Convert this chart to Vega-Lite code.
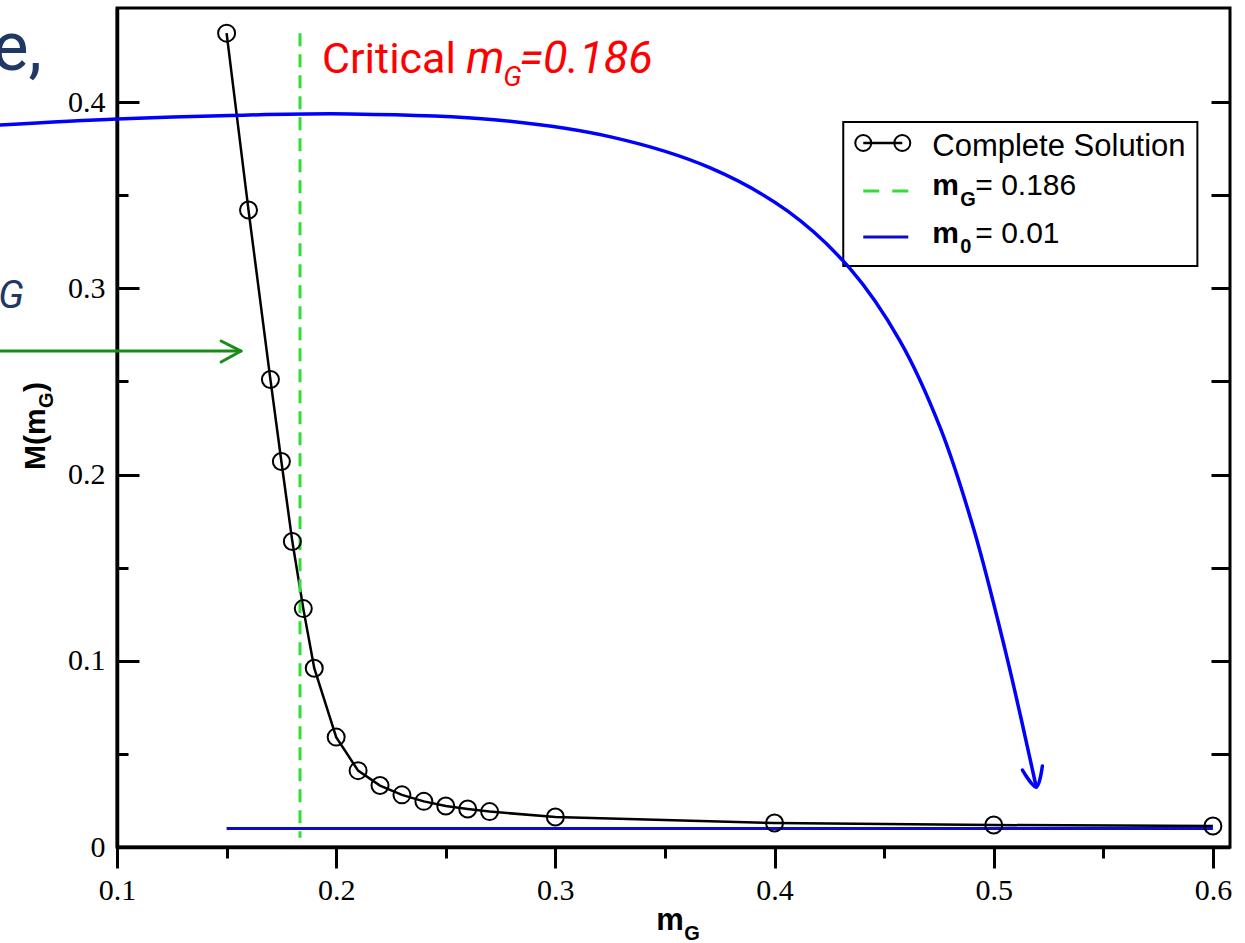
{
  "$schema": "https://vega.github.io/schema/vega-lite/v6.json",
  "width": 1113,
  "height": 839,
  "autosize": {"type": "none"},
  "padding": {"left": 117, "top": 8, "right": 15, "bottom": 96},
  "background": "white",
  "config": {"view": {"stroke": "black", "strokeWidth": 3}, "axis": {"grid": false}},
  "datasets": {
    "solution": [
      {"mG": 0.15, "M": 0.437},
      {"mG": 0.16, "M": 0.342},
      {"mG": 0.17, "M": 0.251},
      {"mG": 0.175, "M": 0.207},
      {"mG": 0.18, "M": 0.164},
      {"mG": 0.185, "M": 0.128},
      {"mG": 0.19, "M": 0.096},
      {"mG": 0.2, "M": 0.059},
      {"mG": 0.21, "M": 0.041},
      {"mG": 0.22, "M": 0.033},
      {"mG": 0.23, "M": 0.028},
      {"mG": 0.24, "M": 0.0245},
      {"mG": 0.25, "M": 0.022},
      {"mG": 0.26, "M": 0.0204},
      {"mG": 0.27, "M": 0.019},
      {"mG": 0.3, "M": 0.0161},
      {"mG": 0.4, "M": 0.0129},
      {"mG": 0.5, "M": 0.0118},
      {"mG": 0.6, "M": 0.0113}
    ],
    "m0": [
      {"mG": 0.15, "M": 0.01},
      {"mG": 0.6, "M": 0.01}
    ],
    "blueArrow": [
      {"part": "shaft", "i": 0, "x": 0.0466, "y": 0.3877},
      {"part": "shaft", "i": 1, "x": 0.1, "y": 0.3909},
      {"part": "shaft", "i": 2, "x": 0.1516, "y": 0.3928},
      {"part": "shaft", "i": 3, "x": 0.2063, "y": 0.3936},
      {"part": "shaft", "i": 4, "x": 0.27202, "y": 0.39052},
      {"part": "shaft", "i": 5, "x": 0.32624, "y": 0.38101},
      {"part": "shaft", "i": 6, "x": 0.37042, "y": 0.36474},
      {"part": "shaft", "i": 7, "x": 0.40603, "y": 0.34139},
      {"part": "shaft", "i": 8, "x": 0.43446, "y": 0.31051},
      {"part": "shaft", "i": 9, "x": 0.45714, "y": 0.27191},
      {"part": "shaft", "i": 10, "x": 0.47558, "y": 0.22514},
      {"part": "shaft", "i": 11, "x": 0.4911, "y": 0.16978},
      {"part": "shaft", "i": 12, "x": 0.50525, "y": 0.10562},
      {"part": "shaft", "i": 13, "x": 0.51228, "y": 0.07007},
      {"part": "shaft", "i": 14, "x": 0.5194, "y": 0.0322},
      {"part": "head", "i": 0, "x": 0.5131, "y": 0.0413},
      {"part": "head", "i": 1, "x": 0.5194, "y": 0.0322},
      {"part": "head", "i": 2, "x": 0.5222, "y": 0.0435}
    ],
    "greenArrow": [
      {"part": "shaft", "i": 0, "x": 0.0443, "y": 0.2663},
      {"part": "shaft", "i": 1, "x": 0.1566, "y": 0.2663},
      {"part": "head", "i": 0, "x": 0.1475, "y": 0.2717},
      {"part": "head", "i": 1, "x": 0.1566, "y": 0.2663},
      {"part": "head", "i": 2, "x": 0.1475, "y": 0.2604}
    ]
  },
  "layer": [
    {
      "data": {"name": "solution"},
      "mark": {"type": "line", "color": "black", "strokeWidth": 2.5},
      "encoding": {
        "x": {"field": "mG", "type": "quantitative",
          "scale": {"domain": [0.1, 0.6078], "nice": false, "zero": false},
          "axis": {"orient": "bottom", "values": [0.1, 0.15, 0.2, 0.25, 0.3, 0.35, 0.4, 0.45, 0.5, 0.55, 0.6],
            "labelExpr": "abs(datum.value*10-round(datum.value*10))<0.01 ? format(datum.value,'.1f') : ''",
            "tickSize": {"condition": {"test": "abs(datum.value*10-round(datum.value*10))<0.01", "value": 21}, "value": 11},
            "tickWidth": 3, "tickColor": "black", "domainColor": "black", "domainWidth": 3.5,
            "labelFont": "Liberation Serif", "labelFontSize": 30, "labelColor": "black", "labelPadding": 7,
            "labelFlush": false, "labelOverlap": false, "title": null, "grid": false}},
        "y": {"field": "M", "type": "quantitative",
          "scale": {"domain": [0, 0.4505], "nice": false, "zero": false},
          "axis": {"orient": "left", "values": [0, 0.05, 0.1, 0.15, 0.2, 0.25, 0.3, 0.35, 0.4],
            "labelExpr": "abs(datum.value*10-round(datum.value*10))<0.01 ? format(datum.value,'.1~f') : ''",
            "tickSize": {"condition": {"test": "abs(datum.value*10-round(datum.value*10))<0.01", "value": -22}, "value": -11},
            "labelPadding": 34,
            "tickWidth": 3, "tickColor": "black", "domainColor": "black", "domainWidth": 3.5,
            "labelFont": "Liberation Serif", "labelFontSize": 30, "labelColor": "black",
            "labelFlush": false, "labelOverlap": false, "title": null, "grid": false}}
      }
    },
    {
      "data": {"values": [{}]},
      "mark": {"type": "point", "opacity": 0},
      "encoding": {
        "y": {"datum": 0, "type": "quantitative",
          "axis": {"orient": "right", "values": [0.05, 0.1, 0.15, 0.2, 0.25, 0.3, 0.35, 0.4], "labels": false, "domain": false, "tickSize": -19, "tickWidth": 3, "tickColor": "black", "title": null, "grid": false}}
      }
    },
    {
      "data": {"values": [{}]},
      "mark": {"type": "rule", "color": "#33dd33", "strokeWidth": 3, "strokeDash": [13, 8]},
      "encoding": {
        "x": {"datum": 0.1835, "type": "quantitative", "axis": null},
        "y": {"datum": 0.437, "type": "quantitative", "axis": null},
        "y2": {"datum": 0.005}
      }
    },
    {
      "data": {"name": "m0"},
      "mark": {"type": "line", "color": "#0b0bcc", "strokeWidth": 3},
      "encoding": {
        "x": {"field": "mG", "type": "quantitative", "axis": null},
        "y": {"field": "M", "type": "quantitative", "axis": null}
      }
    },
    {
      "data": {"name": "solution"},
      "mark": {"type": "point", "shape": "circle", "size": 289, "color": "black", "filled": false, "strokeWidth": 2, "opacity": 1},
      "encoding": {
        "x": {"field": "mG", "type": "quantitative", "axis": null},
        "y": {"field": "M", "type": "quantitative", "axis": null}
      }
    },
    {
      "data": {"values": [{}]},
      "mark": {"type": "rect", "fill": "white", "stroke": "black", "strokeWidth": 2},
      "encoding": {
        "x": {"datum": 0.43135, "type": "quantitative", "axis": null},
        "x2": {"datum": 0.59292},
        "y": {"datum": 0.38928, "type": "quantitative", "axis": null},
        "y2": {"datum": 0.31196}
      }
    },
    {
      "data": {"values": [{}]},
      "mark": {"type": "rule", "color": "black", "strokeWidth": 2.5},
      "encoding": {
        "x": {"datum": 0.44048, "type": "quantitative", "axis": null},
        "x2": {"datum": 0.45828},
        "y": {"datum": 0.37801, "type": "quantitative", "axis": null}
      }
    },
    {
      "data": {"values": [{}]},
      "mark": {"type": "point", "shape": "circle", "size": 256, "color": "black", "filled": false, "strokeWidth": 2, "opacity": 1},
      "encoding": {"x": {"datum": 0.44048, "type": "quantitative", "axis": null}, "y": {"datum": 0.37801, "type": "quantitative", "axis": null}}
    },
    {
      "data": {"values": [{}]},
      "mark": {"type": "point", "shape": "circle", "size": 256, "color": "black", "filled": false, "strokeWidth": 2, "opacity": 1},
      "encoding": {"x": {"datum": 0.45828, "type": "quantitative", "axis": null}, "y": {"datum": 0.37801, "type": "quantitative", "axis": null}}
    },
    {
      "data": {"values": [{}]},
      "mark": {"type": "rule", "color": "#33dd33", "strokeWidth": 3, "strokeDash": [16, 13]},
      "encoding": {
        "x": {"datum": 0.44048, "type": "quantitative", "axis": null},
        "x2": {"datum": 0.46102},
        "y": {"datum": 0.35223, "type": "quantitative", "axis": null}
      }
    },
    {
      "data": {"values": [{}]},
      "mark": {"type": "rule", "color": "#0b0bcc", "strokeWidth": 3},
      "encoding": {
        "x": {"datum": 0.44048, "type": "quantitative", "axis": null},
        "x2": {"datum": 0.46102},
        "y": {"datum": 0.32753, "type": "quantitative", "axis": null}
      }
    },
    {
      "data": {"values": [{}]},
      "mark": {"type": "text", "text": "Complete Solution", "align": "left", "baseline": "alphabetic", "fontSize": 31, "font": "Liberation Sans", "color": "black"},
      "encoding": {"x": {"datum": 0.47197, "type": "quantitative", "axis": null}, "y": {"datum": 0.37103, "type": "quantitative", "axis": null}}
    },
    {
      "data": {"values": [{}]},
      "mark": {"type": "text", "text": "m", "align": "left", "baseline": "alphabetic", "fontSize": 30, "fontWeight": "bold", "font": "Liberation Sans", "color": "black"},
      "encoding": {"x": {"datum": 0.47197, "type": "quantitative", "axis": null}, "y": {"datum": 0.35008, "type": "quantitative", "axis": null}}
    },
    {
      "data": {"values": [{}]},
      "mark": {"type": "text", "text": "G", "align": "left", "baseline": "alphabetic", "fontSize": 20, "fontWeight": "bold", "font": "Liberation Sans", "color": "black"},
      "encoding": {"x": {"datum": 0.48475, "type": "quantitative", "axis": null}, "y": {"datum": 0.34418, "type": "quantitative", "axis": null}}
    },
    {
      "data": {"values": [{}]},
      "mark": {"type": "text", "text": "= 0.186", "align": "left", "baseline": "alphabetic", "fontSize": 30, "font": "Liberation Sans", "color": "black"},
      "encoding": {"x": {"datum": 0.4916, "type": "quantitative", "axis": null}, "y": {"datum": 0.35008, "type": "quantitative", "axis": null}}
    },
    {
      "data": {"values": [{}]},
      "mark": {"type": "text", "text": "m", "align": "left", "baseline": "alphabetic", "fontSize": 30, "fontWeight": "bold", "font": "Liberation Sans", "color": "black"},
      "encoding": {"x": {"datum": 0.47197, "type": "quantitative", "axis": null}, "y": {"datum": 0.32431, "type": "quantitative", "axis": null}}
    },
    {
      "data": {"values": [{}]},
      "mark": {"type": "text", "text": "0", "align": "left", "baseline": "alphabetic", "fontSize": 20, "fontWeight": "bold", "font": "Liberation Sans", "color": "black"},
      "encoding": {"x": {"datum": 0.48475, "type": "quantitative", "axis": null}, "y": {"datum": 0.31894, "type": "quantitative", "axis": null}}
    },
    {
      "data": {"values": [{}]},
      "mark": {"type": "text", "text": "= 0.01", "align": "left", "baseline": "alphabetic", "fontSize": 30, "font": "Liberation Sans", "color": "black"},
      "encoding": {"x": {"datum": 0.4916, "type": "quantitative", "axis": null}, "y": {"datum": 0.32431, "type": "quantitative", "axis": null}}
    },
    {
      "data": {"name": "blueArrow"},
      "mark": {"type": "line", "color": "#0000ff", "strokeWidth": 3.5, "strokeCap": "round", "strokeJoin": "round", "interpolate": "catmull-rom"},
      "encoding": {
        "x": {"field": "x", "type": "quantitative", "axis": null},
        "y": {"field": "y", "type": "quantitative", "axis": null},
        "detail": {"field": "part"},
        "order": {"field": "i", "type": "quantitative"}
      }
    },
    {
      "data": {"name": "greenArrow"},
      "mark": {"type": "line", "color": "#178c17", "strokeWidth": 3, "strokeCap": "round", "strokeJoin": "round"},
      "encoding": {
        "x": {"field": "x", "type": "quantitative", "axis": null},
        "y": {"field": "y", "type": "quantitative", "axis": null},
        "detail": {"field": "part"},
        "order": {"field": "i", "type": "quantitative"}
      }
    },
    {
      "data": {"values": [{}]},
      "mark": {"type": "text", "text": "e,", "align": "right", "baseline": "alphabetic", "fontSize": 68, "font": "Roboto", "color": "#1f3864"},
      "encoding": {"x": {"datum": 0.06577, "type": "quantitative", "axis": null}, "y": {"datum": 0.4172, "type": "quantitative", "axis": null}}
    },
    {
      "data": {"values": [{}]},
      "mark": {"type": "text", "text": "G", "align": "right", "baseline": "alphabetic", "fontSize": 39, "fontStyle": "italic", "font": "Roboto", "color": "#1f3864"},
      "encoding": {"x": {"datum": 0.05755, "type": "quantitative", "axis": null}, "y": {"datum": 0.28941, "type": "quantitative", "axis": null}}
    },
    {
      "data": {"values": [{}]},
      "mark": {"type": "text", "text": "Critical", "align": "left", "baseline": "alphabetic", "fontSize": 43, "font": "Roboto", "color": "#ff0000"},
      "encoding": {"x": {"datum": 0.19356, "type": "quantitative", "axis": null}, "y": {"datum": 0.41559, "type": "quantitative", "axis": null}}
    },
    {
      "data": {"values": [{}]},
      "mark": {"type": "text", "text": "m", "align": "left", "baseline": "alphabetic", "fontSize": 45, "fontStyle": "italic", "font": "Roboto", "color": "#ff0000"},
      "encoding": {"x": {"datum": 0.25929, "type": "quantitative", "axis": null}, "y": {"datum": 0.41559, "type": "quantitative", "axis": null}}
    },
    {
      "data": {"values": [{}]},
      "mark": {"type": "text", "text": "G", "align": "left", "baseline": "alphabetic", "fontSize": 28, "fontStyle": "italic", "font": "Roboto", "color": "#ff0000"},
      "encoding": {"x": {"datum": 0.27618, "type": "quantitative", "axis": null}, "y": {"datum": 0.40861, "type": "quantitative", "axis": null}}
    },
    {
      "data": {"values": [{}]},
      "mark": {"type": "text", "text": "=0.186", "align": "left", "baseline": "alphabetic", "fontSize": 45, "fontStyle": "italic", "font": "Roboto", "color": "#ff0000"},
      "encoding": {"x": {"datum": 0.28348, "type": "quantitative", "axis": null}, "y": {"datum": 0.41559, "type": "quantitative", "axis": null}}
    },
    {
      "data": {"values": [{}]},
      "mark": {"type": "text", "text": "M(m", "align": "left", "baseline": "alphabetic", "angle": 270, "fontSize": 30, "fontWeight": "bold", "font": "Liberation Sans", "color": "black"},
      "encoding": {"x": {"datum": 0.06714, "type": "quantitative", "axis": null}, "y": {"datum": 0.20243, "type": "quantitative", "axis": null}}
    },
    {
      "data": {"values": [{}]},
      "mark": {"type": "text", "text": "G", "align": "left", "baseline": "alphabetic", "angle": 270, "fontSize": 20, "fontWeight": "bold", "font": "Liberation Sans", "color": "black"},
      "encoding": {"x": {"datum": 0.07079, "type": "quantitative", "axis": null}, "y": {"datum": 0.23572, "type": "quantitative", "axis": null}}
    },
    {
      "data": {"values": [{}]},
      "mark": {"type": "text", "text": ")", "align": "left", "baseline": "alphabetic", "angle": 270, "fontSize": 30, "fontWeight": "bold", "font": "Liberation Sans", "color": "black"},
      "encoding": {"x": {"datum": 0.06714, "type": "quantitative", "axis": null}, "y": {"datum": 0.24431, "type": "quantitative", "axis": null}}
    },
    {
      "data": {"values": [{}]},
      "mark": {"type": "text", "text": "m", "align": "left", "baseline": "alphabetic", "fontSize": 31, "fontWeight": "bold", "font": "Liberation Sans", "color": "black"},
      "encoding": {"x": {"datum": 0.34601, "type": "quantitative", "axis": null}, "y": {"datum": -0.04457, "type": "quantitative", "axis": null}}
    },
    {
      "data": {"values": [{}]},
      "mark": {"type": "text", "text": "G", "align": "left", "baseline": "alphabetic", "fontSize": 20, "fontWeight": "bold", "font": "Liberation Sans", "color": "black"},
      "encoding": {"x": {"datum": 0.35879, "type": "quantitative", "axis": null}, "y": {"datum": -0.04994, "type": "quantitative", "axis": null}}
    }
  ],
  "resolve": {"axis": {"x": "independent", "y": "independent"}}
}
